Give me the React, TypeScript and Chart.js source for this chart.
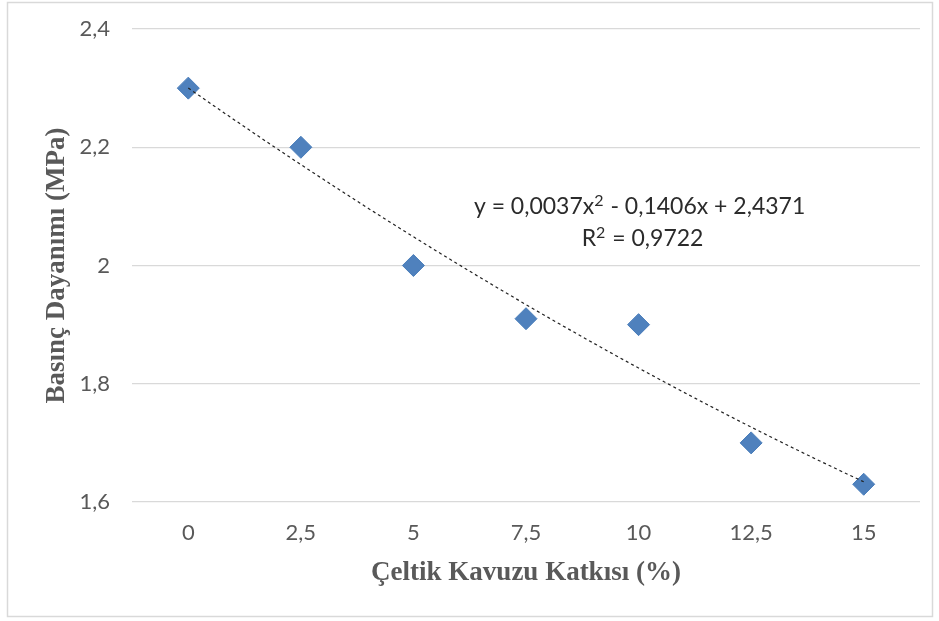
import React, { useEffect, useRef } from "react";
import { Chart, registerables } from "chart.js";

Chart.register(...registerables);

// ---- data ----
const xValues = [0, 2.5, 5, 7.5, 10, 12.5, 15];
const xLabels = ["0", "2,5", "5", "7,5", "10", "12,5", "15"];
const strength = [2.3, 2.2, 2.0, 1.91, 1.9, 1.7, 1.63];
// polynomial trendline shown on the chart (x = point index 1..7)
const trendCoeffs = [0.0037, -0.1406, 2.4371];
const equationLines = ["y = 0,0037x² - 0,1406x + 2,4371", "R² = 0,9722"];
const xTitle = "Çeltik Kavuzu Katkısı (%)";
const yTitle = "Basınç Dayanımı (MPa)";

const trendPoints: { x: number; y: number }[] = [];
for (let i = 0; i <= 60; i++) {
  const xv = (15 * i) / 60;
  const idx = xv / 2.5 + 1;
  const yv = trendCoeffs[0] * idx * idx + trendCoeffs[1] * idx + trendCoeffs[2];
  trendPoints.push({ x: xv, y: yv });
}

const tickFont = { family: "Lato, 'Open Sans', sans-serif", size: 22 };
const titleFont = { family: "'Liberation Serif', 'Times New Roman', serif", size: 27, weight: "bold" as const };

const EQ_FONT = "23px Lato, 'Open Sans', sans-serif";
const SUP_FONT = "16px Lato, 'Open Sans', sans-serif";

function drawWithSup(ctx: CanvasRenderingContext2D, text: string, cx: number, cy: number) {
  const parts = text.split("²");
  const segs: { t: string; sup: boolean; w: number }[] = [];
  parts.forEach((p, i) => {
    ctx.font = EQ_FONT;
    segs.push({ t: p, sup: false, w: ctx.measureText(p).width });
    if (i < parts.length - 1) {
      ctx.font = SUP_FONT;
      segs.push({ t: "2", sup: true, w: ctx.measureText("2").width + 1 });
    }
  });
  const total = segs.reduce((a, s) => a + s.w, 0);
  let x = cx - total / 2;
  ctx.textAlign = "left";
  ctx.textBaseline = "middle";
  segs.forEach((s) => {
    ctx.font = s.sup ? SUP_FONT : EQ_FONT;
    ctx.fillText(s.t, x, s.sup ? cy - 6 : cy);
    x += s.w;
  });
}

const decorPlugin = {
  id: "decor",
  beforeDraw(chart: any) {
    const ctx = chart.ctx;
    ctx.save();
    ctx.fillStyle = "#ffffff";
    ctx.fillRect(0, 0, chart.width, chart.height);
    ctx.strokeStyle = "#d9d9d9";
    ctx.lineWidth = 1.5;
    ctx.strokeRect(7.5, 2.5, 925, 614);
    ctx.restore();
  },
  afterDatasetsDraw(chart: any) {
    const ctx = chart.ctx;
    const xs = chart.scales.x;
    const ys = chart.scales.y;
    ctx.save();
    ctx.fillStyle = "#2b2b2b";
    const cx = xs.getPixelForValue(10);
    const cy = ys.getPixelForValue(2.1);
    drawWithSup(ctx, equationLines[0], cx + 1, cy);
    drawWithSup(ctx, equationLines[1], cx + 4, cy + 32);
    ctx.restore();
  },
};

export default function App() {
  const canvasRef = useRef<HTMLCanvasElement | null>(null);

  useEffect(() => {
    if (!canvasRef.current) return;
    const chart = new Chart(canvasRef.current, {
      type: "scatter",
      data: {
        datasets: [
          {
            label: "trend",
            data: trendPoints,
            showLine: true,
            borderColor: "#222222",
            borderWidth: 1.2,
            borderDash: [3, 3],
            pointRadius: 0,
            fill: false,
          },
          {
            label: "data",
            data: xValues.map((x, i) => ({ x, y: strength[i] })),
            pointStyle: "rectRot",
            pointRadius: 11,
            backgroundColor: "#4F81BD",
            borderColor: "#4A7EBB",
            borderWidth: 1,
            showLine: false,
          },
        ],
      },
      options: {
        animation: false,
        responsive: true,
        maintainAspectRatio: false,
        layout: { padding: { left: 0, right: 19, top: 29, bottom: 0 } },
        plugins: {
          legend: { display: false },
          tooltip: { enabled: false },
        },
        scales: {
          x: {
            type: "linear",
            min: -1.25,
            max: 16.25,
            afterBuildTicks: (axis: any) => {
              axis.ticks = xValues.map((v) => ({ value: v }));
            },
            afterFit: (scale: any) => {
              scale.height = 119;
              scale.paddingLeft = 0;
              scale.paddingRight = 0;
            },
            grid: { display: false, drawTicks: false },
            border: { display: false },
            ticks: {
              padding: 18,
              color: "#595959",
              font: tickFont,
              maxRotation: 0,
              autoSkip: false,
              callback: (v: any) => {
                const i = xValues.indexOf(Number(v));
                return i >= 0 ? xLabels[i] : "";
              },
            },
            title: {
              display: true,
              text: xTitle,
              color: "#595959",
              font: titleFont,
              padding: { top: 32, bottom: 32 },
            },
          },
          y: {
            min: 1.6,
            max: 2.4,
            afterFit: (scale: any) => {
              scale.width = 132;
              scale.paddingTop = 0;
              scale.paddingBottom = 0;
            },
            grid: { color: "#d9d9d9", lineWidth: 1.2, drawTicks: false },
            border: { display: false },
            ticks: {
              stepSize: 0.2,
              padding: 22,
              color: "#595959",
              font: tickFont,
              callback: (v: any) => String(Number(Number(v).toFixed(1))).replace(".", ","),
            },
            title: {
              display: true,
              text: yTitle,
              color: "#595959",
              font: titleFont,
              padding: { top: 41, bottom: 41 },
            },
          },
        },
      },
      plugins: [decorPlugin],
    } as any);
    return () => chart.destroy();
  }, []);

  return (
    <div style={{ position: "absolute", left: 0, top: 0, width: 939, height: 621 }}>
      <canvas ref={canvasRef} />
    </div>
  );
}
